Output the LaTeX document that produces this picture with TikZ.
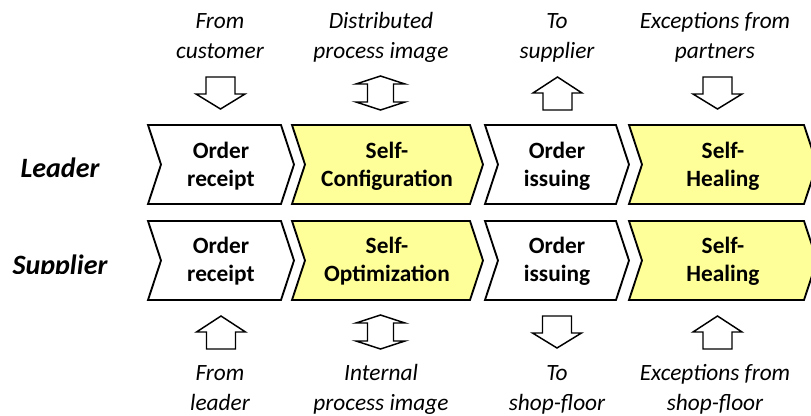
\documentclass[tikz,border=0pt]{standalone}
\usepackage{fontspec}
\setmainfont{Carlito}
\definecolor{chevy}{RGB}{255,255,153}
\newcommand\chevpath[5]{\draw[chevbox, fill=#5] (#1,#3) -- (#2,#3) -- ({#2+13},{(#3+#4)/2}) -- (#2,#4) -- (#1,#4) -- ({#1+13},{(#3+#4)/2}) -- cycle;}
\begin{document}
\begin{tikzpicture}[x=0.75pt,y=-0.75pt,
 chevbox/.style={draw=black, line width=1.4pt, line join=miter},
 blockarr/.style={draw=black, line width=1.1pt, fill=white, line join=miter},
 lbl/.style={font=\fontsize{17.5}{22}\selectfont\itshape, align=center, anchor=base, inner sep=0pt},
 steplbl/.style={font=\fontsize{17.5}{21}\selectfont\bfseries, align=center, anchor=base, inner sep=0pt},
 rolelbl/.style={font=\fontsize{21}{25}\selectfont\bfseries\itshape, anchor=base, inner sep=0pt},
 pics/downarr/.style={code={\draw[blockarr] (-14.5,0) -- (14.5,0) -- (14.5,17) -- (24.5,17) -- (0,32) -- (-24.5,17) -- (-14.5,17) -- cycle;}},
 pics/uparr/.style={code={\draw[blockarr] (-14.5,33) -- (14.5,33) -- (14.5,16) -- (24.5,16) -- (0,0) -- (-24.5,16) -- (-14.5,16) -- cycle;}},
 pics/dblarr/.style={code={\draw[blockarr] (0,0) -- (24.5,8) -- (13,8) -- (13,26) -- (24.5,26) -- (0,34) -- (-24.5,26) -- (-13,26) -- (-13,8) -- (-24.5,8) -- cycle;}},
]
\useasboundingbox (0,0) rectangle (811,415);
\fill[white] (0,0) rectangle (811,415);

% chevrons, leader row
\chevpath{148}{281}{125}{204}{white}
\chevpath{292}{470}{125}{204}{chevy}
\chevpath{485}{616}{125}{204}{white}
\chevpath{629}{804}{125}{204}{chevy}
% chevrons, supplier row
\chevpath{148}{281}{221}{300}{white}
\chevpath{292}{470}{221}{300}{chevy}
\chevpath{485}{616}{221}{300}{white}
\chevpath{629}{804}{221}{300}{chevy}

% step labels (anchor base = last line)
\node[steplbl] (lr) at (221,186) {Order\\receipt};
\node[steplbl] (lc) at (387,186) {Self-\\Configuration};
\node[steplbl] (li) at (557,186) {Order\\issuing};
\node[steplbl] (lh) at (723,186) {Self-\\Healing};
\node[steplbl] (sr) at (221,281) {Order\\receipt};
\node[steplbl] (so) at (387,281) {Self-\\Optimization};
\node[steplbl] (si) at (557,281) {Order\\issuing};
\node[steplbl] (sh) at (723,281) {Self-\\Healing};

% role labels
\node[rolelbl] (leader) at (60,177) {Leader};
\begin{scope}
\clip (0,240) rectangle (140,273.5);
\node[rolelbl] (supplier) at (60,274) {Supplier};
\end{scope}

% top block arrows
\pic at (220.5,77) {downarr};
\pic at (380.5,76) {dblarr};
\pic at (557.5,77) {uparr};
\pic at (717.5,77) {downarr};
% bottom block arrows
\pic at (221,316) {uparr};
\pic at (380.5,315) {dblarr};
\pic at (557,316) {downarr};
\pic at (717.5,316) {uparr};

% top texts (anchor base = last line)
\node[lbl] (t1) at (220,58) {From\\customer};
\node[lbl] (t2) at (381,58) {Distributed\\process image};
\node[lbl] (t3) at (557,58) {To\\supplier};
\node[lbl] (t4) at (715,58) {Exceptions from\\partners};
% bottom texts
\node[lbl] (b1) at (220,410) {From\\leader};
\node[lbl] (b2) at (381,410) {Internal\\process image};
\node[lbl] (b3) at (557,410) {To\\shop-floor};
\node[lbl] (b4) at (715,410) {Exceptions from\\shop-floor};
\end{tikzpicture}
\end{document}
